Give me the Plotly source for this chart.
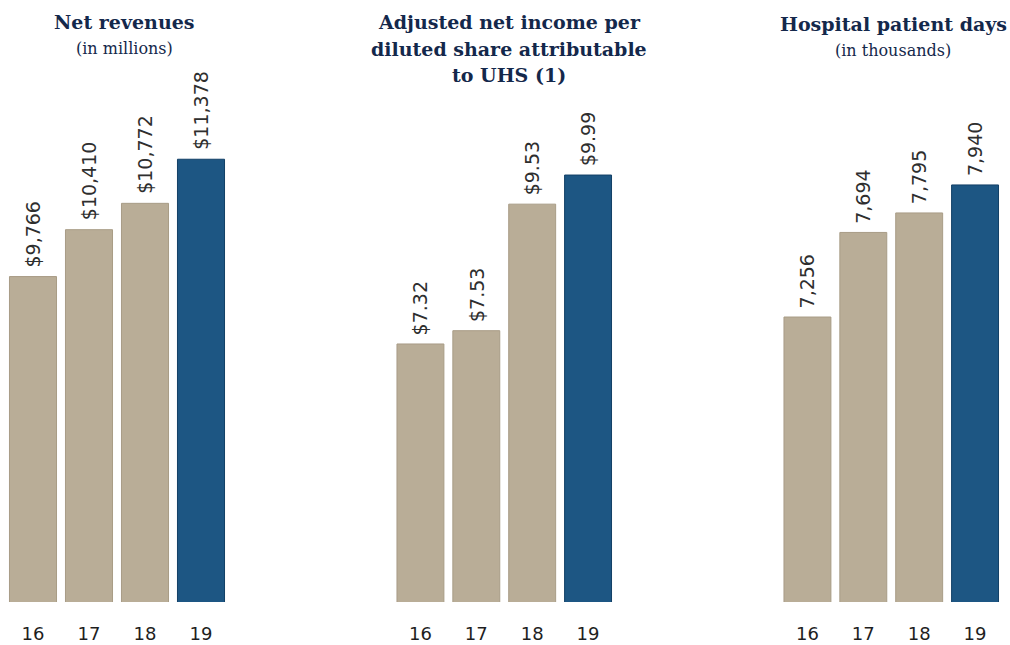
import plotly.graph_objects as go

years = ["16", "17", "18", "19"]
net_revenues = [9766, 10410, 10772, 11378]
net_revenues_labels = ["$9,766", "$10,410", "$10,772", "$11,378"]
eps = [7.32, 7.53, 9.53, 9.99]
eps_labels = ["$7.32", "$7.53", "$9.53", "$9.99"]
patient_days = [7256, 7694, 7795, 7940]
patient_days_labels = ["7,256", "7,694", "7,795", "7,940"]

BEIGE = "#b9ad97"
BLUE = "#1d5683"
NAVY = "#14284b"
TEXT = "#2e2e2e"
colors = [BEIGE, BEIGE, BEIGE, BLUE]
line_colors = ["#a89c86", "#a89c86", "#a89c86", "#123f66"]

W, H = 1010, 645
y_bot = (H - 602) / H
y_top = (H - 100) / H

panels = [
    (net_revenues, net_revenues_labels, [5294, 12192], (5, 229)),
    (eps, eps_labels, [3.242, 11.176], (392.5, 616)),
    (patient_days, patient_days_labels, [5780, 8380], (779.5, 1003)),
]

fig = go.Figure()
annotations = []
for i, (vals, labs, yr, (x0, x1)) in enumerate(panels, start=1):
    sfx = "" if i == 1 else str(i)
    fig.add_trace(go.Bar(
        x=years, y=vals,
        marker=dict(color=colors, line=dict(color=line_colors, width=1)),
        xaxis="x" + sfx, yaxis="y" + sfx, showlegend=False, hoverinfo="skip",
    ))
    for k, (yv, t) in enumerate(zip(vals, labs)):
        annotations.append(dict(
            x=k, y=yv, xref="x" + sfx, yref="y" + sfx, text=t, textangle=-90,
            showarrow=False, xanchor="center", yanchor="bottom", yshift=7,
            font=dict(family="DejaVu Sans", size=19, color=TEXT)))
    fig.update_layout(**{
        "xaxis" + sfx: dict(type="category", domain=[x0 / W, x1 / W], anchor="y" + sfx,
                            range=[-0.5, 3.5], showgrid=False, zeroline=False, showline=False,
                            automargin=False,
                            ticks="outside", ticklen=0, ticklabelstandoff=15,
                            tickfont=dict(family="DejaVu Sans", size=18, color="#1e1e1e")),
        "yaxis" + sfx: dict(domain=[y_bot, y_top], anchor="x" + sfx, range=yr,
                            automargin=False,
                            visible=False, showgrid=False, zeroline=False),
    })

title_font = dict(family="DejaVu Serif", size=19, color=NAVY)
sub_font = dict(family="DejaVu Serif", size=16, color=NAVY)
titles = [
    dict(x=124, y=22, text="<b>Net revenues</b>", font=title_font),
    dict(x=124, y=48, text="(in millions)", font=sub_font),
    dict(x=509, y=22, text="<b>Adjusted net income per</b>", font=title_font),
    dict(x=509, y=49, text="<b>diluted share attributable</b>", font=title_font),
    dict(x=509, y=75, text="<b>to UHS (1)</b>", font=title_font),
    dict(x=893, y=24, text="<b>Hospital patient days</b>", font=title_font),
    dict(x=893, y=50, text="(in thousands)", font=sub_font),
]
for a in titles:
    annotations.append(dict(xref="paper", yref="paper", x=a["x"] / W,
                            y=1 - a["y"] / H, text=a["text"], font=a["font"],
                            showarrow=False, xanchor="center", yanchor="middle"))

fig.update_layout(annotations=annotations, width=W, height=H,
                  margin=dict(l=0, r=0, t=0, b=0),
                  paper_bgcolor="white", plot_bgcolor="white", bargap=0.16)
fig.write_html("out.html")
